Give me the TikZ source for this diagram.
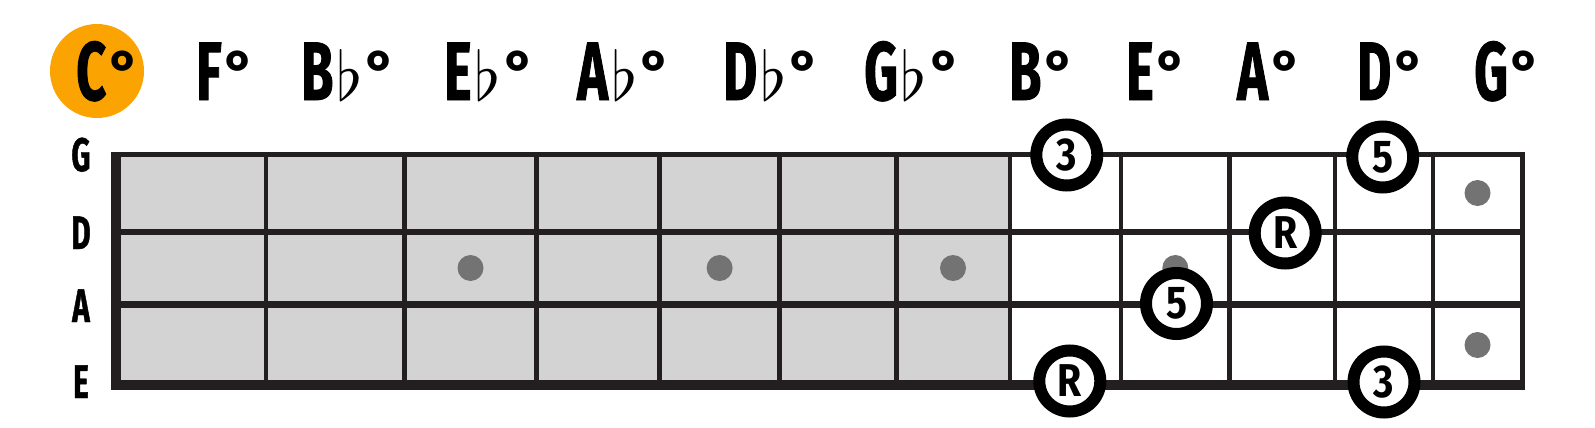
\documentclass[tikz,border=0pt]{standalone}
\usepackage{fontspec}
\usepackage{tikz}

\newfontfamily\condfont{Fira Sans}[FakeStretch=0.63, FakeBold=1]
\newfontfamily\notefont{Fira Sans}[FakeStretch=0.85]
\newfontfamily\plainfont{Fira Sans}
\definecolor{fretline}{HTML}{231F20}
\definecolor{boardgrey}{HTML}{D3D3D3}
\definecolor{markgrey}{HTML}{737373}
\definecolor{rootorange}{HTML}{FBA300}
\newcommand{\flt}{\hspace{3pt}\scalebox{6.8}{\normalsize$\flat$}}
\newcommand{\dgr}{{\plainfont\bfseries\fontsize{60}{60}\selectfont\hspace{3pt}\raisebox{7pt}{°}}}

\begin{document}
\begin{tikzpicture}[x=1pt, y=-1pt,
    headlab/.style={inner sep=0, anchor=base west,
      font=\condfont\bfseries\fontsize{83}{83}\selectfont},
    strlab/.style={inner sep=0, anchor=base,
      font=\condfont\bfseries\fontsize{47}{47}\selectfont},
    tone/.style={circle, draw=black, fill=white, line width=12pt,
      minimum size=61pt, inner sep=0,
      font=\notefont\bfseries\fontsize{46}{46}\selectfont},
    marker/.style={circle, fill=markgrey, minimum size=26pt, inner sep=0}]
    \useasboundingbox (0,0) rectangle (1595,428);
    % Chord names
    \node[circle, fill=rootorange, minimum size=94pt, inner sep=0] (root) at (97,71) {};
    \foreach \x/\n/\t in {76/C/C, 196/F/F, 301/Bb/B\flt, 444/Eb/E\flt, 577/Ab/A\flt,
        723/Db/D\flt, 864/Gb/G\flt, 1009/B/B, 1126/E/E, 1237/A/A, 1357/D/D, 1474/G/G}
        \node[headlab] (h\n) at (\x,100) {\t\dgr};
    % Board
    \fill[boardgrey] (115.7,154.5) rectangle (1010,385);
    % Strings
    \draw[fretline, line width=5pt] (110.7,154.5) -- (1524.3,154.5);
    \draw[fretline, line width=6pt] (110.7,231.7) -- (1524.3,231.7);
    \draw[fretline, line width=7pt] (110.7,304.5) -- (1524.3,304.5);
    \draw[fretline, line width=10pt] (110.7,385) -- (1524.3,385);
    % Frets
    \foreach \x in {266,404.5,536.5,659.7,779.5,896.3,1010,1121,1229.5,1335,1433}
        \draw[fretline, line width=4.5pt] (\x,154.5) -- (\x,385);
    \draw[fretline, line width=10pt] (115.7,152) -- (115.7,390);
    \draw[fretline, line width=5pt] (1522,152) -- (1522,390);
    % String names
    \foreach \y/\s in {171/G, 249/D, 322/A, 398/E}
        \node[strlab] (s\s) at (81,\y) {\s};
    % Position markers
    \node[marker] (m3) at (470.5,268) {};
    \node[marker] (m5) at (719.6,268) {};
    \node[marker] (m7) at (953,268) {};
    \node[marker] (m9) at (1175.3,268) {};
    \node[marker] (m12a) at (1477.5,193) {};
    \node[marker] (m12b) at (1477.5,345) {};
    % Chord tones
    \node[tone] (third1) at (1066.8,155) {3};
    \node[tone] (fifth2) at (1382.7,157) {5};
    \node[tone] (root2) at (1285.2,233) {R};
    \node[tone] (fifth1) at (1176.5,303.5) {5};
    \node[tone] (root1) at (1069.8,381) {R};
    \node[tone] (third2) at (1384,382) {3};
\end{tikzpicture}
\end{document}
